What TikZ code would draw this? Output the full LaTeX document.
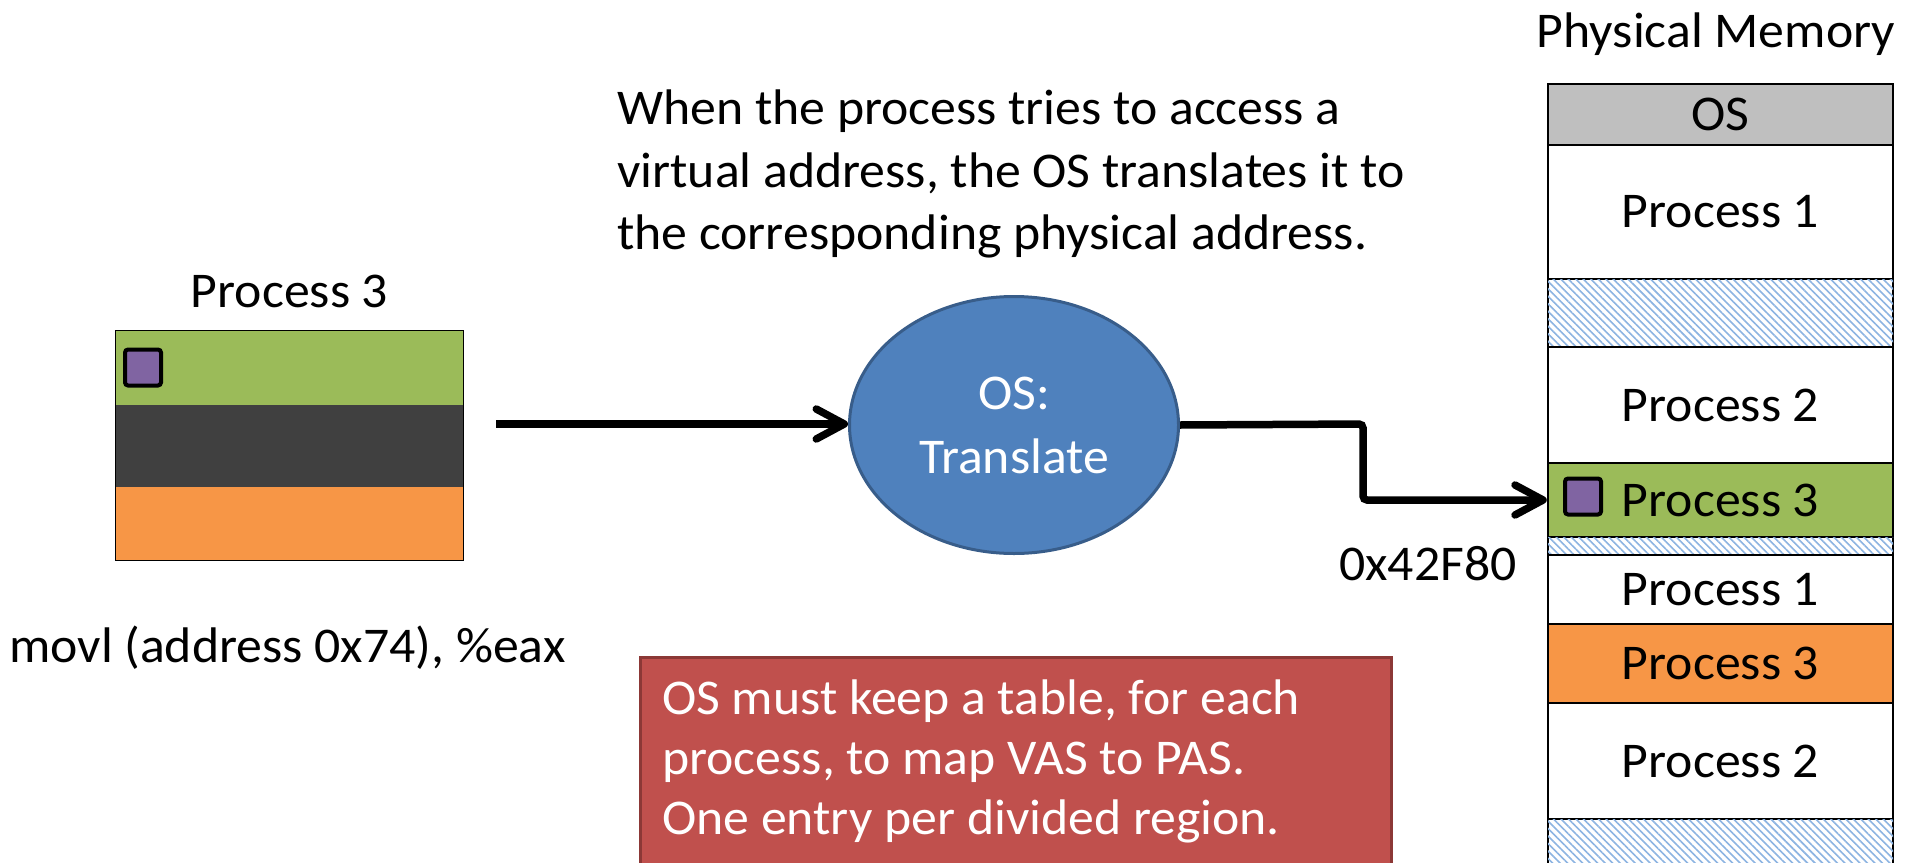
\documentclass[tikz,border=0pt]{standalone}
\usepackage{fontspec}
\setmainfont{Carlito}[FakeStretch=1.035]
\usetikzlibrary{shapes.geometric,arrows.meta,patterns.meta,calc}
\definecolor{pgreen}{HTML}{9BBB59}
\definecolor{pdark}{HTML}{404040}
\definecolor{porange}{HTML}{F79646}
\definecolor{ppurple}{HTML}{8064A2}
\definecolor{osblue}{HTML}{4F81BD}
\definecolor{osblueborder}{HTML}{385D8A}
\definecolor{notered}{HTML}{C0504D}
\definecolor{noteredborder}{HTML}{8C3836}
\definecolor{osgray}{HTML}{BFBFBF}
\definecolor{hatchblue}{HTML}{8DB4E2}
\begin{document}
\begin{tikzpicture}[x=1pt,y=-1pt,
  txt/.style={font=\fontsize{50}{62.5}\selectfont, inner sep=0pt},
  memrow/.style={draw=black, line width=2.5pt, minimum width=345pt, inner sep=0pt,
                 font=\fontsize{50}{60}\selectfont},
  hatchrow/.style={memrow, fill=white,
     postaction={pattern={Lines[angle=-45,distance=5.3pt,line width=1.6pt]}, pattern color=hatchblue}},
  vrow/.style={minimum width=347pt, inner sep=0pt},
  psq/.style={draw=black, line width=4pt, fill=ppurple, minimum size=36pt, inner sep=0pt, rounded corners=3pt},
  conn/.style={line width=7.5pt, rounded corners=4pt, -{Straight Barb[length=28pt,width=30pt,round]}},
]
\useasboundingbox (0,0) rectangle (1908,862);

% explanation text
\node[txt, anchor=north west, align=left] (explain) at (617,90)
  {When the process tries to access a\\virtual address, the OS translates it to\\the corresponding physical address.};

% virtual address space of process 3
\node[txt, anchor=base] (p3title) at (289.5,307) {Process 3};
\node[vrow, fill=pgreen, minimum height=74pt] (vg) at (289.5,368) {};
\node[vrow, fill=pdark, minimum height=82pt] (vd) at (289.5,446) {};
\node[vrow, fill=porange, minimum height=73pt] (vo) at (289.5,523.5) {};
\draw[line width=1.2pt] (vg.north west) rectangle (vo.south east);
\node[psq] (vsq) at (143,367.5) {};
\node[txt, anchor=base west] (movl) at (9,662) {movl (address 0x74), \%eax};

% OS translate
\node[ellipse, fill=osblue, draw=osblueborder, line width=3pt,
      minimum width=329pt, minimum height=257pt] (ell) at (1014,425) {};
\node[txt, text=white, anchor=north, align=center, font=\fontsize{50}{64}\selectfont] (elltext) at (1014,377) {OS:\\Translate};

% physical memory
\node[txt, anchor=base] (memtitle) at (1716,47) {Physical Memory};
\node[memrow, fill=osgray, minimum height=61pt] (mos) at (1720.5,114.5) {OS};
\node[memrow, fill=white, minimum height=134pt] (mp1a) at (1720.5,212) {Process 1};
\node[hatchrow, minimum height=68pt] (mh1) at (1720.5,313) {};
\node[memrow, fill=white, minimum height=116pt] (mp2a) at (1720.5,405) {Process 2};
\node[memrow, fill=pgreen, minimum height=74pt] (mp3g) at (1720.5,500) {Process 3};
\node[hatchrow, minimum height=18pt] (mh2) at (1720.5,546) {};
\node[memrow, fill=white, minimum height=69pt] (mp1b) at (1720.5,589.5) {Process 1};
\node[memrow, fill=porange, minimum height=79pt] (mp3o) at (1720.5,663.5) {Process 3};
\node[memrow, fill=white, minimum height=116pt] (mp2b) at (1720.5,761) {Process 2};
\node[hatchrow, minimum height=52pt] (mh3) at (1720.5,845) {};
\node[psq] (msq) at (1583,496.5) {};

% arrows
\coordinate (a1start) at (496,424);
\draw[conn] (a1start) -- (a1start -| ell.west);
\coordinate (a2bend) at (1363,424);
\draw[conn] (ell.east) -- (a2bend) -- (a2bend |- mp3g.west) -- (mp3g.west);
\node[txt, anchor=base] (addr) at (1428,580) {0x42F80};

% note box
\node[draw=noteredborder, fill=notered, line width=3pt, anchor=north west,
      minimum width=751pt, minimum height=260pt, inner sep=0pt] (note) at (639,656) {};
\node[txt, text=white, anchor=north west, align=left, font=\fontsize{50}{60}\selectfont] (notetext)
  at ($(note.north west)+(23,24)$)
  {OS must keep a table, for each\\process, to map VAS to PAS.\\One entry per divided region.};
\end{tikzpicture}
\end{document}
